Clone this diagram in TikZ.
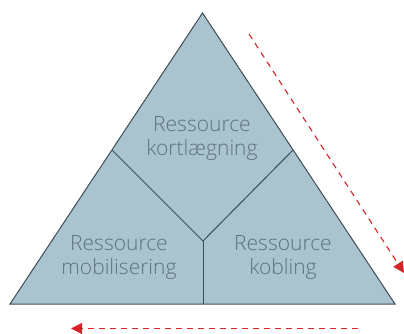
\documentclass[tikz,border=0pt]{standalone}
\usepackage{fontspec}
\setmainfont{Open Sans Light}
\usetikzlibrary{arrows.meta}
\definecolor{fillc}{HTML}{A9C3CF}
\definecolor{edgec}{HTML}{3E4D58}
\definecolor{txtc}{HTML}{5F727E}
\definecolor{redc}{HTML}{D8232A}
\tikzset{
  lbl/.style={text=txtc, align=center, font=\fontsize{21}{24}\selectfont},
  edge/.style={draw=edgec, line width=1pt},
  flow/.style={draw=redc, line width=1.1pt, dash pattern=on 6pt off 5pt, -{Triangle[length=11pt,width=11pt]}}
}
\begin{document}
\begin{tikzpicture}[x=1pt,y=-1pt]
\useasboundingbox (0,0) rectangle (404,334);
\coordinate (A) at (202.5,13);
\coordinate (L) at (10,304);
\coordinate (R) at (395,304);
\coordinate (ML) at (112,150);
\coordinate (MR) at (293,150);
\coordinate (C) at (203,241);
\coordinate (B) at (203,304);
\fill[fillc] (A) -- (L) -- (R) -- cycle;
\draw[edge] (ML) -- (C) -- (MR);
\draw[edge] (C) -- (B);
\draw[edge, line join=miter] (A) -- (L) -- (R) -- cycle;
\node[lbl] (t1) at (202,139) {Ressource\\kortlægning};
\node[lbl] (t2) at (119,258) {Ressource\\mobilisering};
\node[lbl] (t3) at (283,258) {Ressource\\kobling};
\coordinate (r1s) at (249,34);
\coordinate (r1e) at (404,273);
\coordinate (r2s) at (358,328.5);
\coordinate (r2e) at (71,328.5);
\draw[flow] (r1s) -- (r1e);
\draw[flow] (r2s) -- (r2e);
\end{tikzpicture}
\end{document}
